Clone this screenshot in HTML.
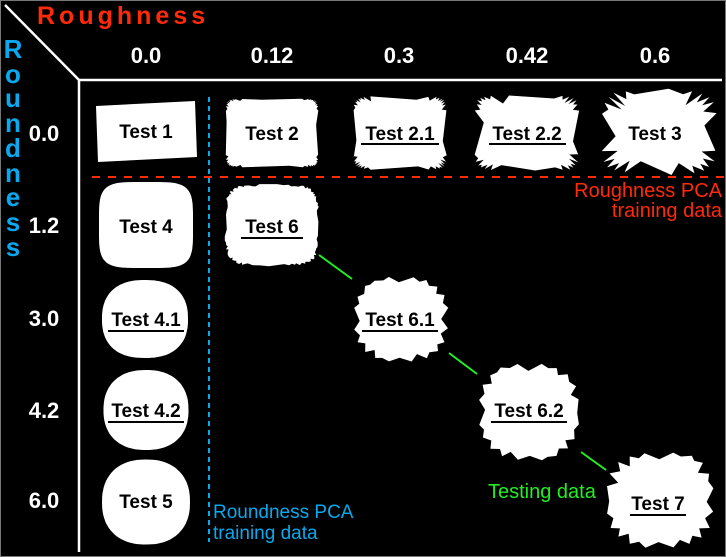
<!DOCTYPE html>
<html><head><meta charset="utf-8">
<style>
html,body{margin:0;padding:0;background:#000;}
svg{display:block;}
text{font-family:"Liberation Sans",Arial,sans-serif;}
.t{font-weight:bold;font-size:19px;fill:#000;text-anchor:middle;}
.h{font-weight:bold;font-size:22px;fill:#fff;text-anchor:middle;}
</style></head>
<body>
<svg id="s" width="726" height="557" viewBox="0 0 726 557" xmlns="http://www.w3.org/2000/svg">
<rect x="0.5" y="0.5" width="725" height="556" fill="#000" stroke="#777" stroke-width="1"/>
<line x1="5" y1="5" x2="79" y2="80" stroke="#fff" stroke-width="2.5"/>
<line x1="78" y1="80" x2="722" y2="80" stroke="#fff" stroke-width="2.5"/>
<line x1="79" y1="80" x2="79" y2="552" stroke="#fff" stroke-width="2.5"/>
<text x="37" y="24" font-size="25" font-weight="bold" fill="#ff2a0a" letter-spacing="4">Roughness</text>
<g font-size="26" font-weight="bold" fill="#0aa8ee" text-anchor="middle">
<text x="13" y="58">R</text><text x="13" y="83">o</text><text x="13" y="107">u</text><text x="13" y="132">n</text><text x="13" y="157">d</text><text x="13" y="182">n</text><text x="13" y="206">e</text><text x="13" y="231">s</text><text x="13" y="256">s</text>
</g>
<text class="h" x="146" y="63">0.0</text>
<text class="h" x="272" y="63">0.12</text>
<text class="h" x="399" y="63">0.3</text>
<text class="h" x="527" y="63">0.42</text>
<text class="h" x="655" y="63">0.6</text>
<text class="h" x="44" y="141">0.0</text>
<text class="h" x="44" y="233">1.2</text>
<text class="h" x="44" y="326">3.0</text>
<text class="h" x="44" y="418">4.2</text>
<text class="h" x="44" y="508">6.0</text>
<line x1="92" y1="177" x2="726" y2="177" stroke="#ff2a0a" stroke-width="2" stroke-dasharray="8,8"/>
<line x1="209" y1="97" x2="209" y2="542" stroke="#0aa8ee" stroke-width="2" stroke-dasharray="5,4"/>
<g stroke="#22ee22" stroke-width="2">
<line x1="319" y1="255" x2="352" y2="279"/>
<line x1="449" y1="353" x2="477" y2="374"/>
<line x1="581" y1="452" x2="606" y2="470"/>
</g>
<g id="shapes" fill="#fff"></g>
<polygon points="96,106 195,101 197,157 98,162" fill="#fff"/>
<text class="t" x="146" y="138">Test 1</text>
<text class="t" x="272" y="140">Test 2</text>
<text class="t" x="400" y="140">Test 2.1</text>
<text class="t" x="527" y="140">Test 2.2</text>
<text class="t" x="655" y="140">Test 3</text>
<text class="t" x="146" y="233">Test 4</text>
<text class="t" x="272" y="233">Test 6</text>
<text class="t" x="146" y="326">Test 4.1</text>
<text class="t" x="400" y="326">Test 6.1</text>
<text class="t" x="146" y="417">Test 4.2</text>
<text class="t" x="529" y="417">Test 6.2</text>
<text class="t" x="146" y="508">Test 5</text>
<text class="t" x="658" y="510">Test 7</text>
<g stroke="#000" stroke-width="2">
<line x1="241" y1="238" x2="303" y2="238"/>
<line x1="361" y1="144" x2="439" y2="144"/>
<line x1="489" y1="144" x2="566" y2="144"/>
<line x1="108" y1="331" x2="184" y2="331"/>
<line x1="362" y1="331" x2="438" y2="331"/>
<line x1="108" y1="422" x2="184" y2="422"/>
<line x1="491" y1="422" x2="567" y2="422"/>
<line x1="630" y1="515" x2="686" y2="515"/>
</g>
<text x="722" y="197" font-size="20" fill="#ff2a0a" text-anchor="end">Roughness PCA</text>
<text x="722" y="217" font-size="20" fill="#ff2a0a" text-anchor="end">training data</text>
<text x="213" y="518" font-size="19" fill="#0aa8ee">Roundness PCA</text>
<text x="213" y="539" font-size="19" fill="#0aa8ee">training data</text>
<text x="488" y="498" font-size="20" fill="#22ee22">Testing data</text>
</svg>
<script>
(function(){
var seed=7;function r(){seed=(seed*9301+49297)%233280;return seed/233280;}
function shape(cx,cy,w,h,n,spk,amp,wob){
  var N=spk?spk*2:120,pts=[];
  for(var i=0;i<N;i++){
    var t=(i+0.3*(r()-0.5))/N*2*Math.PI,c=Math.cos(t),s=Math.sin(t);
    var a=w/2,b=h/2;
    var x=a*Math.sign(c)*Math.pow(Math.abs(c),2/n),y=b*Math.sign(s)*Math.pow(Math.abs(s),2/n);
    var d=Math.sqrt(x*x+y*y)||1,k;
    if(spk){k=(i%2==0)?-amp*(0.2+0.8*r()):amp*0.15*r();}
    else{k=wob*(r()-0.5);}
    pts.push((cx+x+x/d*k).toFixed(1)+","+(cy+y+y/d*k).toFixed(1));
  }
  var p=document.createElementNS("http://www.w3.org/2000/svg","polygon");
  p.setAttribute("points",pts.join(" "));
  document.getElementById("shapes").appendChild(p);
}
shape(272,133,92,68,12,40,3);
shape(400,133,92,72,10,32,6);
shape(527,133,102,74,8,26,10);
shape(659,132,112,82,5,22,18);
shape(146,225,94,86,4.5,0,0,0);
shape(272,225,92,80,4.5,0,0,3);
shape(145,319,86,78,2.4,0,0,0);
shape(146,410,85,80,2.3,0,0,0);
shape(146,502,88,85,2.3,0,0,0);
shape(401,319,94,84,2.6,20,7);
shape(529,412,100,96,2.6,20,8);
shape(660,500,106,94,2.8,20,10);
})();
</script>
</body></html>
